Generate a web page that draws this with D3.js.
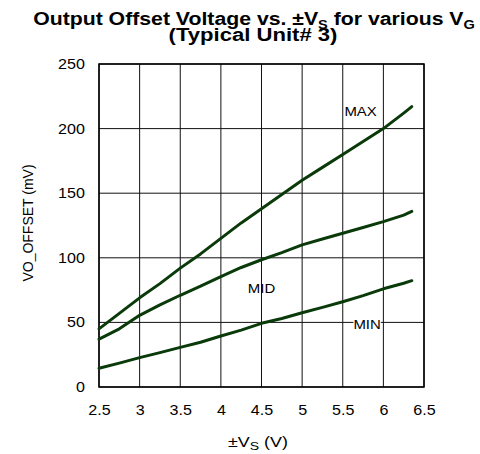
<!DOCTYPE html>
<html>
<head>
<meta charset="utf-8">
<script src="https://cdn.jsdelivr.net/npm/d3@7"></script>
<style>
  html, body { margin: 0; padding: 0; background: #fff; }
  svg text { font-family: "Liberation Sans", Arial, sans-serif; fill: #000; }
</style>
</head>
<body>
<svg id="chart" width="480" height="454"></svg>
<script>
// Supply voltage (±VS, volts) at which the offset was measured
const supplyV = [2.5, 2.75, 3, 3.25, 3.5, 3.75, 4, 4.25, 4.5, 4.75, 5, 5.25, 5.5, 5.75, 6, 6.25, 6.35];
// Output offset voltage (mV) for each gain setting
const offsetMax = [45, 57, 69, 80, 92, 103, 115, 127, 138, 149, 160, 170, 180, 190, 200, 212, 217];
const offsetMid = [37, 45, 55.5, 63.5, 71, 78, 85.5, 92.5, 98.5, 104, 110, 114.5, 119, 123.5, 128, 133, 136];
const offsetMin = [14.5, 18.5, 22.7, 26.6, 30.7, 34.6, 39.5, 44, 49.3, 53, 57.5, 61.6, 66, 70.7, 76, 80.3, 82.3];
const seriesNames = ["MAX", "MID", "MIN"];
const xTicks = [2.5, 3, 3.5, 4, 4.5, 5, 5.5, 6, 6.5];
const yTicks = [0, 50, 100, 150, 200, 250];

const svg = d3.select("#chart");
const plotL = 99, plotR = 424, plotT = 64, plotB = 387;
const WIDEN = 1.15; // horizontal widening applied to the lettering

const x = d3.scaleLinear().domain([2.5, 6.5]).range([plotL, plotR]);
const y = d3.scaleLinear().domain([0, 250]).range([plotB, plotT]);

// stretch a text horizontally about its centre ("mid") or right edge ("end")
function widen(node, k, pivot = "mid") {
  const b = node.getBBox();
  const px = pivot === "end" ? b.x + b.width : b.x + b.width / 2;
  d3.select(node).attr("transform", `translate(${px},0) scale(${k},1) translate(${-px},0)`);
}
// stretch a text so that it spans a given width, centred where it is
function fitWidth(node, w) {
  widen(node, w / node.getBBox().width, "mid");
}

// grid
const grid = svg.append("g");
grid.selectAll("line.v").data(xTicks).join("line").attr("class", "v")
  .attr("x1", d => x(d)).attr("x2", d => x(d))
  .attr("y1", plotT).attr("y2", plotB)
  .attr("stroke", "#111").attr("stroke-width", 1);
grid.selectAll("line.h").data(yTicks).join("line").attr("class", "h")
  .attr("x1", plotL).attr("x2", plotR)
  .attr("y1", d => y(d)).attr("y2", d => y(d))
  .attr("stroke", "#111").attr("stroke-width", 1);

// frame
svg.append("rect").attr("x", plotL).attr("y", plotT)
  .attr("width", plotR - plotL).attr("height", plotB - plotT)
  .attr("fill", "none").attr("stroke", "#000").attr("stroke-width", 1.5);

// axes (tick labels only)
const xAxis = svg.append("g").attr("transform", `translate(0,${plotB})`)
  .call(d3.axisBottom(x).tickValues(xTicks).tickSize(0).tickPadding(18).tickFormat(d3.format("")));
const yAxis = svg.append("g").attr("transform", `translate(${plotL},0)`)
  .call(d3.axisLeft(y).tickValues(yTicks).tickSize(0).tickPadding(14));
[xAxis, yAxis].forEach(a => {
  a.select(".domain").remove();
  a.selectAll("text").attr("font-size", 14).attr("font-family", "Liberation Sans, Arial, sans-serif").attr("fill", "#000");
});
xAxis.selectAll("text").each(function () { widen(this, WIDEN, "mid"); });
yAxis.selectAll("text").each(function () { widen(this, WIDEN, "end"); });

// curves
const line = d3.line().x((d, i) => x(supplyV[i])).y(d => y(d)).curve(d3.curveLinear);
[offsetMax, offsetMid, offsetMin].forEach(s => {
  svg.append("path").datum(s).attr("d", line)
    .attr("fill", "none").attr("stroke", "#0a3a0a")
    .attr("stroke-width", 3).attr("stroke-linejoin", "round").attr("stroke-linecap", "round");
});

// series labels
const labelPos = [[5.72, 212.5], [4.5, 75.5], [5.8, 47.2]];
seriesNames.forEach((name, i) => {
  const t = svg.append("text")
    .attr("x", x(labelPos[i][0])).attr("y", y(labelPos[i][1]))
    .attr("text-anchor", "middle").attr("dominant-baseline", "middle")
    .attr("font-size", 13).text(name);
  widen(t.node(), WIDEN, "mid");
  if (name === "MIN") {
    const b = t.node().getBBox();
    const w = b.width * WIDEN;
    svg.insert("rect", () => t.node())
      .attr("x", b.x + b.width / 2 - w / 2).attr("y", b.y).attr("width", w).attr("height", b.height)
      .attr("fill", "#fff");
  }
});

// title
const title = svg.append("text").attr("x", 254).attr("y", 25)
  .attr("text-anchor", "middle").attr("font-size", 19).attr("font-weight", "bold");
title.append("tspan").text("Output Offset Voltage vs. \u00B1V");
title.append("tspan").attr("font-size", 13).attr("dy", 4).text("S");
title.append("tspan").attr("dy", -4).text(" for various V");
title.append("tspan").attr("font-size", 13).attr("dy", 4).text("G");
fitWidth(title.node(), 442);
const subtitle = svg.append("text").attr("x", 253).attr("y", 41)
  .attr("text-anchor", "middle").attr("font-size", 19).attr("font-weight", "bold")
  .text("(Typical Unit# 3)");
fitWidth(subtitle.node(), 169);

// axis titles
const xl = svg.append("text").attr("x", 258).attr("y", 447)
  .attr("text-anchor", "middle").attr("font-size", 14);
xl.append("tspan").text("\u00B1V");
xl.append("tspan").attr("font-size", 11).attr("dy", 3).text("S");
xl.append("tspan").attr("dy", -3).text(" (V)");
fitWidth(xl.node(), 60);

svg.append("text").attr("transform", "translate(33,223) rotate(-90)")
  .attr("text-anchor", "middle").attr("font-size", 14)
  .text("VO_OFFSET (mV)");
</script>
</body>
</html>
